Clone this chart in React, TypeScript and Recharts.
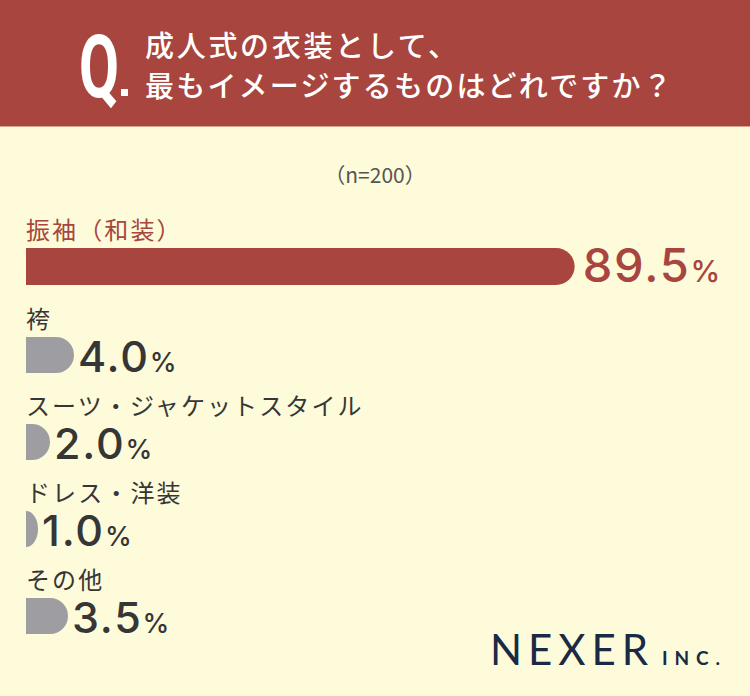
import React from 'react';
import { BarChart, Bar, XAxis, YAxis, LabelList } from 'recharts';

// ---- data ----
const topCategories = ['振袖（和装）'];
const topValues = [89.5];
const otherCategories = ['袴', 'スーツ・ジャケットスタイル', 'ドレス・洋装', 'その他'];
const otherValues = [4.0, 2.0, 1.0, 3.5];
const questionLines = ['成人式の衣装として、', '最もイメージするものはどれですか？'];
const sampleLabel = '（n=200）';
const brandMain = 'NEXER';
const brandSub = 'INC.';

const RED = '#a8453e';
const GRAY = '#9d9da2';
const CREAM = '#fdfbda';
const DARK = '#363636';
const NAVY = '#1a2a45';
const FONT_JP = '"Noto Sans CJK JP", "Noto Sans", sans-serif';
const FONT_NUM = 'Inter, "Noto Sans", sans-serif';

const topData = topCategories.map((name, i) => ({ name, value: topValues[i] }));
const otherData = otherCategories.map((name, i) => ({ name, value: otherValues[i] }));

function DShape(props: any) {
  const { x, y, width, height, fill } = props;
  if (!width || width <= 0) return null;
  const ry = height / 2;
  const rx = Math.min(width, ry);
  const s = width - rx;
  const d = `M${x},${y} H${x + s} A${rx},${ry} 0 0 1 ${x + s},${y + height} H${x} Z`;
  return <path d={d} fill={fill} />;
}

const makeCategoryLabel = (color: string) => (props: any) => {
  const { x, y, value } = props;
  return (
    <text x={x} y={y - 9} fill={color} fontSize={24} fontFamily={FONT_JP} letterSpacing={2.1}>
      {value}
    </text>
  );
};

const makeValueLabel = (color: string, size: number, pctSize: number, gap: number, dy: number) => (props: any) => {
  const { x, y, width, height, value } = props;
  return (
    <text
      x={x + width + gap}
      y={y + height / 2 + dy}
      fill={color}
      fontFamily={FONT_NUM}
      fontWeight={500}
      fontSize={size}
      letterSpacing={1.8}
    >
      {Number(value).toFixed(1)}
      <tspan fontSize={pctSize} letterSpacing={0} dx={0}>%</tspan>
    </text>
  );
};

export default function App() {
  return (
    <div
      style={{
        position: 'absolute',
        left: 0,
        top: 0,
        width: 750,
        height: 696,
        background: CREAM,
        overflow: 'hidden',
      }}
    >
      <div style={{ position: 'absolute', left: 0, top: 0, width: 750, height: 126, background: RED, borderBottom: '1px solid #d9a593' }} />
      <svg width={750} height={696} style={{ position: 'absolute', left: 0, top: 0 }}>
        <text
          x={0}
          y={0}
          transform="translate(79,97) scale(0.66,1)"
          fill="#ffffff"
          fontFamily="Roboto, sans-serif"
          fontWeight={700}
          fontSize={88}
        >
          Q
        </text>
        <rect x={121} y={89} width={7} height={7} fill="#ffffff" />
        <text x={145} y={57} fill="#ffffff" fontFamily={FONT_JP} fontWeight={500} fontSize={29} letterSpacing={2.7}>
          {questionLines[0]}
        </text>
        <text x={145} y={97} fill="#ffffff" fontFamily={FONT_JP} fontWeight={500} fontSize={29} letterSpacing={2.2}>
          {questionLines[1]}
        </text>
        <text x={375} y={183} textAnchor="middle" fill="#555555" fontFamily={FONT_JP} fontSize={21}>
          {sampleLabel}
        </text>
        <text x={490} y={665} fill={NAVY} fontFamily="Lato, sans-serif" fontWeight={400} fontSize={42} textLength={158} lengthAdjust="spacing">
          {brandMain}
        </text>
        <text x={662} y={665} fill={NAVY} fontFamily="Lato, sans-serif" fontWeight={700} fontSize={19} textLength={58} lengthAdjust="spacing">
          {brandSub}
        </text>
      </svg>

      <div style={{ position: 'absolute', left: 0, top: 200 }}>
        <BarChart
          width={750}
          height={100}
          data={topData}
          layout="vertical"
          margin={{ top: 33, right: 111, bottom: 0, left: 26 }}
        >
          <XAxis type="number" domain={[0, 100]} hide />
          <YAxis type="category" dataKey="name" hide />
          <Bar dataKey="value" fill={RED} barSize={37} shape={<DShape />} isAnimationActive={false}>
            <LabelList dataKey="name" content={makeCategoryLabel(RED)} />
            <LabelList dataKey="value" content={makeValueLabel(RED, 47, 30, 8, 15)} />
          </Bar>
        </BarChart>
      </div>

      <div style={{ position: 'absolute', left: 0, top: 281 }}>
        <BarChart
          width={750}
          height={378}
          data={otherData}
          layout="vertical"
          margin={{ top: 30, right: 124, bottom: 0, left: 26 }}
        >
          <XAxis type="number" domain={[0, 50]} hide />
          <YAxis type="category" dataKey="name" hide />
          <Bar dataKey="value" fill={GRAY} barSize={36} shape={<DShape />} isAnimationActive={false}>
            <LabelList dataKey="name" content={makeCategoryLabel(DARK)} />
            <LabelList dataKey="value" content={makeValueLabel(DARK, 43, 27, 4, 17)} />
          </Bar>
        </BarChart>
      </div>
    </div>
  );
}
